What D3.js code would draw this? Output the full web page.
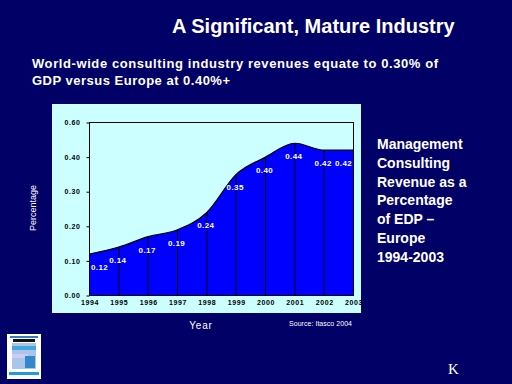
<!DOCTYPE html>
<html>
<head>
<meta charset="utf-8">
<script src="https://cdn.jsdelivr.net/npm/d3@7"></script>
<style>
  body { margin: 0; background: #000066; }
  svg { display: block; }
</style>
</head>
<body>
<div id="chart"></div>
<script>
// data
var years = ["1994", "1995", "1996", "1997", "1998", "1999", "2000", "2001", "2002", "2003"];
var values = [0.12, 0.14, 0.17, 0.19, 0.24, 0.35, 0.40, 0.44, 0.42, 0.42];
var yTicks = [0, 0.1, 0.2, 0.3, 0.4, 0.5];
var yTickLabels = ["0.00", "0.10", "0.20", "0.30", "0.40", "0.60"];
var sideLines = ["Management", "Consulting", "Revenue as a", "Percentage", "of EDP \u2013", "Europe", "1994-2003"];

var W = 512, H = 384;
var font = "Arial, 'Liberation Sans', sans-serif";

var svg = d3.select("#chart").append("svg")
    .attr("width", W)
    .attr("height", H);

svg.append("rect").attr("width", W).attr("height", H).attr("fill", "#000066");

// title + subtitle
svg.append("text")
    .attr("x", 172).attr("y", 33)
    .attr("fill", "#fff")
    .style("font", "bold 20px " + font)
    .text("A Significant, Mature Industry");

svg.append("text")
    .attr("x", 32).attr("y", 67.5)
    .attr("fill", "#fff")
    .attr("textLength", 406)
    .style("font", "bold 13px " + font)
    .text("World-wide consulting industry  revenues equate to 0.30%  of");
svg.append("text")
    .attr("x", 32).attr("y", 85)
    .attr("fill", "#fff")
    .attr("textLength", 198)
    .style("font", "bold 13px " + font)
    .text("GDP  versus Europe at 0.40%+");

// light panel behind the chart
var panel = {x: 52, y: 104, w: 309, h: 209};
svg.append("defs").append("clipPath").attr("id", "pclip")
  .append("rect")
    .attr("x", panel.x).attr("y", panel.y)
    .attr("width", panel.w).attr("height", panel.h);

svg.append("rect")
    .attr("x", panel.x).attr("y", panel.y)
    .attr("width", panel.w).attr("height", panel.h)
    .attr("fill", "#ccffff");

var pLeft = 89.5, pRight = 353.5, pTop = 122.5, pBottom = 295.5;

var x = d3.scalePoint().domain(years).range([pLeft, pRight]);
var y = d3.scaleLinear().domain([0, 0.5]).range([pBottom, pTop]);

var g = svg.append("g").attr("clip-path", "url(#pclip)");

var area = d3.area()
    .x(function(d, i) { return x(years[i]); })
    .y0(y(0))
    .y1(function(d) { return y(d); })
    .curve(d3.curveMonotoneX);

var line = d3.line()
    .x(function(d, i) { return x(years[i]); })
    .y(function(d) { return y(d); })
    .curve(d3.curveMonotoneX);

g.append("path")
    .datum(values)
    .attr("fill", "#0000ff")
    .attr("d", area);

g.append("path")
    .datum(values)
    .attr("fill", "none")
    .attr("stroke", "#000")
    .attr("stroke-width", 1.2)
    .attr("d", line);

// drop lines
g.selectAll(".drop")
  .data(values)
  .enter().append("line")
    .attr("x1", function(d, i) { return x(years[i]); })
    .attr("x2", function(d, i) { return x(years[i]); })
    .attr("y1", y(0))
    .attr("y2", function(d) { return y(d); })
    .attr("stroke", "#000");

// frame
g.append("rect")
    .attr("x", pLeft).attr("y", pTop)
    .attr("width", pRight - pLeft).attr("height", pBottom - pTop)
    .attr("fill", "none")
    .attr("stroke", "#000");

// value labels (kept inside the plot at both ends)
g.selectAll(".val")
  .data(values)
  .enter().append("text")
    .attr("x", function(d, i) { return Math.max(pLeft + 10, Math.min(pRight - 10, x(years[i]) - 1)); })
    .attr("y", function(d) { return y(d) + 16; })
    .attr("text-anchor", "middle")
    .attr("fill", "#fff")
    .style("font", "bold 8px " + font)
    .style("letter-spacing", "0.4px")
    .text(function(d) { return d.toFixed(2); });

// y axis
var yAxis = g.append("g")
    .attr("transform", "translate(" + pLeft + ",0)")
    .call(d3.axisLeft(y).tickValues(yTicks).tickSize(3).tickPadding(6)
      .tickFormat(function(d, i) { return yTickLabels[i]; }));
yAxis.select(".domain").remove();
yAxis.selectAll("line").attr("stroke", "#000");
yAxis.selectAll("text")
    .attr("fill", "#000")
    .style("font", "bold 7px " + font)
    .style("letter-spacing", "0.6px");

// x axis
var xAxis = g.append("g")
    .attr("transform", "translate(0," + pBottom + ")")
    .call(d3.axisBottom(x).tickSize(0).tickPadding(5));
xAxis.select(".domain").remove();
xAxis.selectAll("text")
    .attr("fill", "#000")
    .style("font", "bold 7px " + font)
    .style("letter-spacing", "0.6px");

// axis titles
svg.append("text")
    .attr("transform", "translate(36,208) rotate(-90)")
    .attr("text-anchor", "middle")
    .attr("fill", "#fff")
    .style("font", "9px " + font)
    .text("Percentage");

svg.append("text")
    .attr("x", 201).attr("y", 329)
    .attr("text-anchor", "middle")
    .attr("fill", "#fff")
    .style("font", "10px " + font)
    .style("letter-spacing", "0.8px")
    .text("Year");

svg.append("text")
    .attr("x", 289).attr("y", 326)
    .attr("fill", "#fff")
    .attr("textLength", 63)
    .style("font", "7px " + font)
    .text("Source: Itasco 2004");

// side note
svg.append("g").selectAll("text")
  .data(sideLines)
  .enter().append("text")
    .attr("x", 377)
    .attr("y", function(d, i) { return 149 + i * 18.8; })
    .attr("fill", "#fff")
    .style("font", "bold 14px " + font)
    .text(function(d) { return d; });

// small logo, bottom left
var logo = svg.append("g").attr("transform", "translate(7,334)");
logo.append("rect").attr("width", 34).attr("height", 45).attr("fill", "#fff");
logo.append("rect").attr("x", 3).attr("y", 2).attr("width", 28).attr("height", 2).attr("fill", "#3377cc");
logo.append("rect").attr("x", 6).attr("y", 5).attr("width", 22).attr("height", 3).attr("fill", "#111");
logo.append("rect").attr("x", 5).attr("y", 9).attr("width", 24).attr("height", 26).attr("fill", "#aac4ee");
logo.append("rect").attr("x", 5).attr("y", 12).attr("width", 24).attr("height", 4).attr("fill", "#44aadd");
logo.append("rect").attr("x", 5).attr("y", 20).attr("width", 16).attr("height", 4).attr("fill", "#ccccee");
logo.append("rect").attr("x", 18).attr("y", 22).attr("width", 10).attr("height", 12).attr("fill", "#3388cc");
logo.append("rect").attr("x", 2).attr("y", 38).attr("width", 30).attr("height", 3).attr("fill", "#2299dd");

svg.append("text")
    .attr("x", 448).attr("y", 374)
    .attr("fill", "#fff")
    .style("font", "15px 'Liberation Serif', serif")
    .text("K");
</script>
</body>
</html>
